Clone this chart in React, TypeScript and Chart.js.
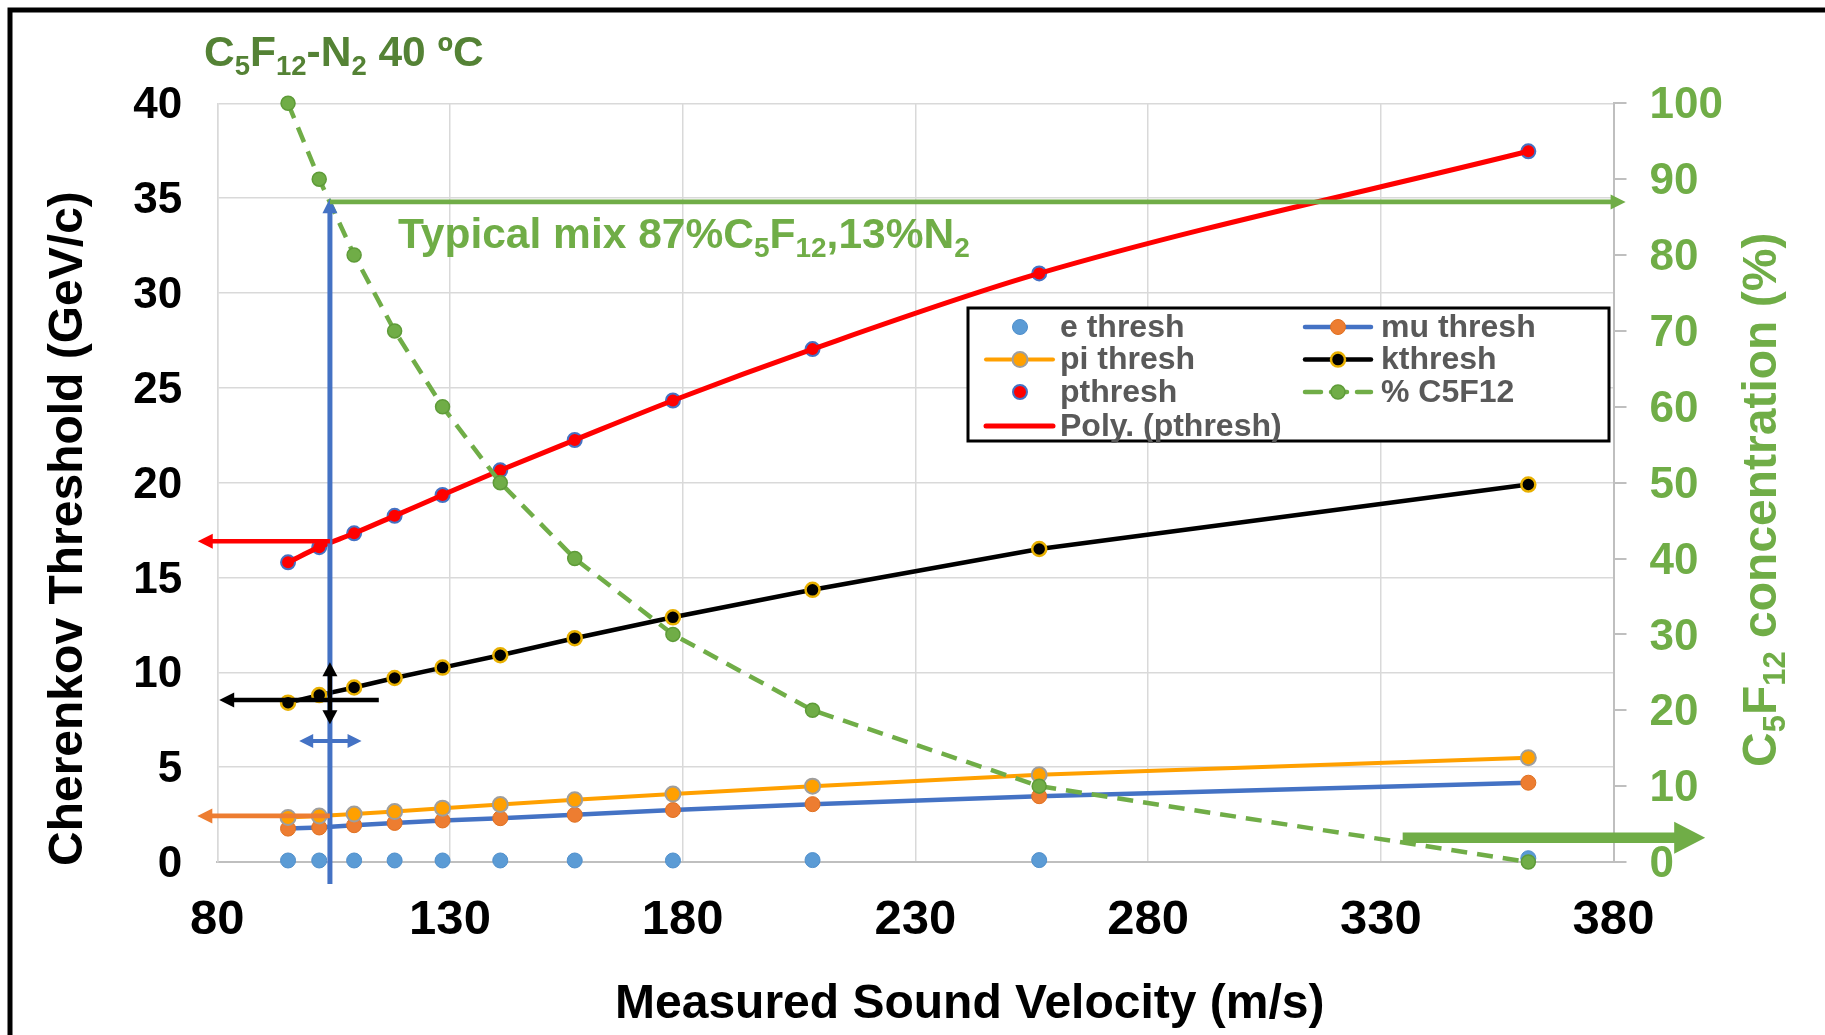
import React, { useEffect, useRef } from "react";
import { Chart, registerables } from "chart.js";

Chart.register(...registerables);

const FONT = "'Liberation Sans', Arial, Helvetica, sans-serif";

// ---------- data ----------
const soundVelocity = [95.2, 101.9, 109.4, 118.1, 128.4, 140.8, 156.8, 177.9, 207.9, 256.6, 361.7];
const eThresh = [0.08, 0.08, 0.08, 0.08, 0.08, 0.08, 0.08, 0.08, 0.1, 0.1, 0.2];
const muThresh = [1.76, 1.82, 1.94, 2.06, 2.19, 2.31, 2.49, 2.74, 3.05, 3.47, 4.18];
const piThresh = [2.35, 2.43, 2.53, 2.66, 2.84, 3.03, 3.28, 3.58, 4.0, 4.6, 5.5];
const kThresh = [8.4, 8.8, 9.2, 9.7, 10.25, 10.9, 11.8, 12.9, 14.35, 16.5, 19.9];
const pThresh = [15.8, 16.6, 17.33, 18.25, 19.35, 20.65, 22.25, 24.33, 27.04, 31.03, 37.47];
const c5f12Percent = [100, 90, 80, 70, 60, 50, 40, 30, 20, 10, 0];

const xAxisRange = [80, 380];
const xAxisStep = 50;
const yLeftRange = [0, 40];
const yLeftStep = 5;
const yRightRange = [0, 100];
const yRightStep = 10;

// annotation arrows, in data units of the chart's scales
const arrowDefs = [
  { axis: "y", from: [104.2, -1.16], to: [104.2, 35], color: "#4472C4", width: 5, headLen: 15, headW: 15, both: false },
  { axis: "y", from: [104.2, 16.91], to: [75.8, 16.91], color: "#FF0000", width: 4.7, headLen: 15, headW: 15, both: false },
  { axis: "y", from: [104.2, 2.43], to: [75.7, 2.43], color: "#ED7D31", width: 4.7, headLen: 15, headW: 15, both: false },
  { axis: "y2", from: [104.2, 87], to: [382.6, 87], color: "#70AD47", width: 4.7, headLen: 15, headW: 15, both: false },
  { axis: "y2", from: [334.7, 3.2], to: [399.7, 3.2], color: "#70AD47", width: 10.4, headLen: 31, headW: 32, both: false },
  { axis: "y", from: [114.7, 8.54], to: [80.4, 8.54], color: "#000000", width: 4.7, headLen: 15, headW: 15, both: false },
  { axis: "y", from: [104.2, 7.26], to: [104.2, 10.53], color: "#000000", width: 4.5, headLen: 14, headW: 15, both: true },
  { axis: "y", from: [97.6, 6.38], to: [111.0, 6.38], color: "#4472C4", width: 4, headLen: 14, headW: 14, both: true },
];

const toXY = (ys: number[]) => soundVelocity.map((x, i) => ({ x, y: ys[i] }));

type Seg = { t: string; sub?: boolean };

function drawRich(ctx: CanvasRenderingContext2D, segs: Seg[], x: number, y: number, size: number, subSize: number, subDrop: number, color: string) {
  ctx.save();
  ctx.fillStyle = color;
  ctx.textAlign = "left";
  ctx.textBaseline = "alphabetic";
  let cx = x;
  for (const s of segs) {
    ctx.font = `bold ${s.sub ? subSize : size}px ${FONT}`;
    ctx.fillText(s.t, cx, s.sub ? y + subDrop : y);
    cx += ctx.measureText(s.t).width;
  }
  ctx.restore();
}

function drawArrow(ctx: CanvasRenderingContext2D, x1: number, y1: number, x2: number, y2: number, color: string, width: number, headLen: number, headW: number, both: boolean) {
  const ang = Math.atan2(y2 - y1, x2 - x1);
  const c = Math.cos(ang), s = Math.sin(ang);
  ctx.save();
  ctx.strokeStyle = color;
  ctx.fillStyle = color;
  ctx.lineWidth = width;
  ctx.lineCap = "butt";
  const sx = both ? x1 + c * headLen * 0.8 : x1;
  const sy = both ? y1 + s * headLen * 0.8 : y1;
  const ex = x2 - c * headLen * 0.8;
  const ey = y2 - s * headLen * 0.8;
  ctx.beginPath();
  ctx.moveTo(sx, sy);
  ctx.lineTo(ex, ey);
  ctx.stroke();
  const head = (tx: number, ty: number, dc: number, ds: number) => {
    const bx = tx - dc * headLen, by = ty - ds * headLen;
    ctx.beginPath();
    ctx.moveTo(tx, ty);
    ctx.lineTo(bx - ds * headW / 2, by + dc * headW / 2);
    ctx.lineTo(bx + ds * headW / 2, by - dc * headW / 2);
    ctx.closePath();
    ctx.fill();
  };
  head(x2, y2, c, s);
  if (both) head(x1, y1, -c, -s);
  ctx.restore();
}

const overlayPlugin = {
  id: "overlay",
  beforeDraw(chart: any) {
    const ctx = chart.ctx as CanvasRenderingContext2D;
    ctx.save();
    ctx.fillStyle = "#ffffff";
    ctx.fillRect(0, 0, chart.width, chart.height);
    ctx.restore();
  },
  afterDatasetsDraw(chart: any) {
    const ctx = chart.ctx as CanvasRenderingContext2D;
    const xs = chart.scales.x;
    for (const a of arrowDefs) {
      const ys = chart.scales[a.axis];
      drawArrow(
        ctx,
        xs.getPixelForValue(a.from[0]), ys.getPixelForValue(a.from[1]),
        xs.getPixelForValue(a.to[0]), ys.getPixelForValue(a.to[1]),
        a.color, a.width, a.headLen, a.headW, a.both
      );
    }
    // typical mix label
    drawRich(ctx, [
      { t: "Typical mix 87%C" }, { t: "5", sub: true }, { t: "F" }, { t: "12", sub: true },
      { t: ",13%N" }, { t: "2", sub: true },
    ], 398, 248, 42.5, 28, 9, "#70AD47");
  },
  afterDraw(chart: any) {
    const ctx = chart.ctx as CanvasRenderingContext2D;
    // chart title
    drawRich(ctx, [
      { t: "C" }, { t: "5", sub: true }, { t: "F" }, { t: "12", sub: true },
      { t: "-N" }, { t: "2", sub: true }, { t: " 40 ºC" },
    ], 204, 66, 42.5, 27.5, 9, "#548235");

    // x axis title
    ctx.save();
    ctx.fillStyle = "#000";
    ctx.font = `bold 48px ${FONT}`;
    ctx.textAlign = "left";
    ctx.textBaseline = "alphabetic";
    ctx.fillText("Measured Sound Velocity (m/s)", 615, 1018);
    ctx.restore();

    // left y title
    ctx.save();
    ctx.translate(81.6, 866);
    ctx.rotate(-Math.PI / 2);
    ctx.fillStyle = "#000";
    ctx.font = `bold 48px ${FONT}`;
    ctx.textAlign = "left";
    ctx.textBaseline = "alphabetic";
    ctx.fillText("Cherenkov Threshold (GeV/c)", 0, 0);
    ctx.restore();

    // right y title
    ctx.save();
    ctx.translate(1776, 767);
    ctx.rotate(-Math.PI / 2);
    drawRich(ctx, [
      { t: "C" }, { t: "5", sub: true }, { t: "F" }, { t: "12", sub: true }, { t: " concentration (%)" },
    ], 0, 0, 48, 31, 9, "#70AD47");
    ctx.restore();

    // legend
    const L = { left: 968, top: 308, right: 1609, bottom: 441 };
    ctx.save();
    ctx.fillStyle = "#ffffff";
    ctx.fillRect(L.left, L.top, L.right - L.left, L.bottom - L.top);
    ctx.strokeStyle = "#000";
    ctx.lineWidth = 3;
    ctx.strokeRect(L.left, L.top, L.right - L.left, L.bottom - L.top);
    ctx.restore();
    const rows = [327, 359.6, 392, 426];
    const cols = [
      { l: 986, c: 1020, r: 1053, tx: 1060 },
      { l: 1305, c: 1338, r: 1371, tx: 1381 },
    ];
    const labelOf = (label: string) => chart.data.datasets.findIndex((d: any) => d.label === label);
    const placement: [string, number, number][] = [
      ["e thresh", 0, 0], ["mu thresh", 1, 0],
      ["pi thresh", 0, 1], ["kthresh", 1, 1],
      ["pthresh", 0, 2], ["% C5F12", 1, 2],
      ["Poly. (pthresh)", 0, 3],
    ];
    for (const [name, col, row] of placement) {
      const ds = chart.data.datasets[labelOf(name)];
      const cc = cols[col];
      const y = rows[row];
      ctx.save();
      if (ds.showLine) {
        ctx.strokeStyle = ds.borderColor;
        ctx.lineWidth = ds.borderWidth;
        ctx.setLineDash(ds.borderDash || []);
        ctx.lineCap = "round";
        ctx.beginPath();
        ctx.moveTo(cc.l, y);
        ctx.lineTo(cc.r, y);
        ctx.stroke();
        ctx.setLineDash([]);
      }
      if (ds.pointRadius > 0) {
        ctx.beginPath();
        ctx.arc(cc.c, y, ds.pointRadius, 0, Math.PI * 2);
        ctx.fillStyle = ds.pointBackgroundColor;
        ctx.fill();
        ctx.lineWidth = ds.pointBorderWidth;
        ctx.strokeStyle = ds.pointBorderColor;
        ctx.stroke();
      }
      ctx.fillStyle = "#595959";
      ctx.font = `bold 32px ${FONT}`;
      ctx.textAlign = "left";
      ctx.textBaseline = "middle";
      ctx.fillText(ds.label, cc.tx, y + 1);
      ctx.restore();
    }

    // outer frame
    ctx.save();
    ctx.strokeStyle = "#000";
    ctx.lineWidth = 5;
    ctx.strokeRect(10, 10, 3000, 3000);
    ctx.restore();
  },
};

export default function App() {
  const ref = useRef<HTMLCanvasElement>(null);
  useEffect(() => {
    if (!ref.current) return;
    const chart = new Chart(ref.current, {
      type: "scatter",
      data: {
        datasets: [
          { label: "e thresh", data: toXY(eThresh), yAxisID: "y", showLine: false, pointRadius: 7.5, pointBackgroundColor: "#5B9BD5", pointBorderColor: "#4F8FCC", pointBorderWidth: 1, order: 6, clip: false } as any,
          { label: "mu thresh", data: toXY(muThresh), yAxisID: "y", showLine: true, borderColor: "#4472C4", borderWidth: 4.5, pointRadius: 7.5, pointBackgroundColor: "#ED7D31", pointBorderColor: "#E07020", pointBorderWidth: 1, order: 5, clip: false },
          { label: "pi thresh", data: toXY(piThresh), yAxisID: "y", showLine: true, borderColor: "#FFA000", borderWidth: 4, pointRadius: 7.5, pointBackgroundColor: "#FFA000", pointBorderColor: "#9E9E9E", pointBorderWidth: 2, order: 4, clip: false },
          { label: "kthresh", data: toXY(kThresh), yAxisID: "y", showLine: true, borderColor: "#000000", borderWidth: 4.5, pointRadius: 7, pointBackgroundColor: "#000000", pointBorderColor: "#E8B000", pointBorderWidth: 2.5, order: 3, clip: false },
          { label: "pthresh", data: toXY(pThresh), yAxisID: "y", showLine: false, pointRadius: 7, pointBackgroundColor: "#FF0000", pointBorderColor: "#4472C4", pointBorderWidth: 2, order: 2, clip: false },
          { label: "% C5F12", data: toXY(c5f12Percent), yAxisID: "y2", showLine: true, borderColor: "#70AD47", borderWidth: 4.5, borderDash: [16, 10], pointRadius: 7, pointBackgroundColor: "#70AD47", pointBorderColor: "#5E9B38", pointBorderWidth: 1.5, order: 0, clip: false },
          { label: "Poly. (pthresh)", data: toXY(pThresh), yAxisID: "y", showLine: true, borderColor: "#FF0000", borderWidth: 5, pointRadius: 0, cubicInterpolationMode: "monotone", order: 1, clip: false },
        ] as any,
      },
      options: {
        responsive: false,
        maintainAspectRatio: false,
        devicePixelRatio: 1,
        animation: false,
        events: [],
        layout: { padding: { top: 103.3, left: 0, right: 0, bottom: 0 } },
        plugins: { legend: { display: false }, tooltip: { enabled: false }, title: { display: false } },
        scales: {
          x: {
            type: "linear",
            position: "bottom",
            min: xAxisRange[0],
            max: xAxisRange[1],
            afterFit: (s: any) => { s.height = 1035 - 862; },
            afterBuildTicks: (s: any) => {
              const t = [];
              for (let v = xAxisRange[0]; v <= xAxisRange[1]; v += xAxisStep) t.push({ value: v });
              s.ticks = t;
            },
            ticks: { stepSize: xAxisStep, autoSkip: false, maxRotation: 0, color: "#000", padding: 29, font: { family: FONT, size: 49, weight: "bold" } },
            grid: { color: "#D9D9D9", lineWidth: 1.5, drawTicks: false },
            border: { color: "#BFBFBF", width: 2 },
          },
          y: {
            type: "linear",
            position: "left",
            min: yLeftRange[0],
            max: yLeftRange[1],
            afterFit: (s: any) => { s.width = 217.3; },
            ticks: { stepSize: yLeftStep, autoSkip: false, labelOffset: 3, color: "#000", padding: 35, font: { family: FONT, size: 44, weight: "bold" } },
            grid: { color: "#D9D9D9", lineWidth: 1.5, drawTicks: false },
            border: { color: "#D9D9D9", width: 1.5 },
          },
          y2: {
            type: "linear",
            position: "right",
            min: yRightRange[0],
            max: yRightRange[1],
            afterFit: (s: any) => { s.width = 1825 - 1613.5; },
            ticks: { stepSize: yRightStep, autoSkip: false, labelOffset: 3, color: "#70AD47", padding: 23, font: { family: FONT, size: 44, weight: "bold" } },
            grid: { drawOnChartArea: false, drawTicks: true, tickLength: 13, color: "#BFBFBF", lineWidth: 2 },
            border: { color: "#BFBFBF", width: 2 },
          },
        },
      } as any,
      plugins: [overlayPlugin],
    });
    return () => chart.destroy();
  }, []);
  return (
    <div style={{ position: "absolute", left: 0, top: 0, width: 1825, height: 1035 }}>
      <canvas ref={ref} width={1825} height={1035} style={{ display: "block", width: 1825, height: 1035 }} />
    </div>
  );
}
